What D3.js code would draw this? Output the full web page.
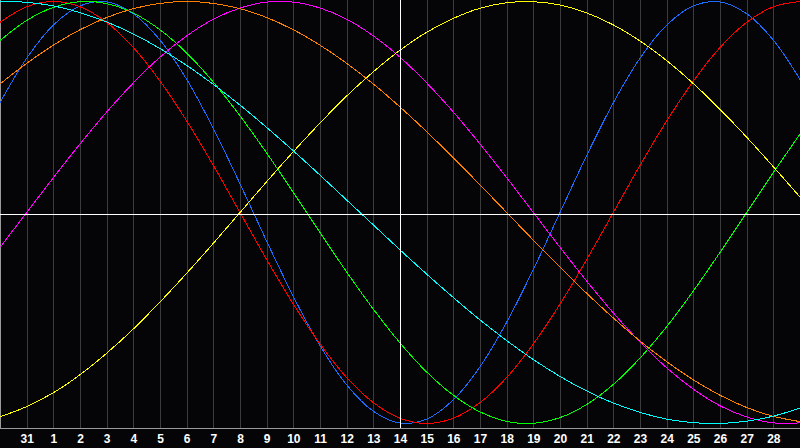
<!DOCTYPE html>
<html>
<head>
<meta charset="utf-8">
<script src="https://cdn.jsdelivr.net/npm/d3@7"></script>
<style>
  html, body { margin: 0; padding: 0; background: #050507; overflow: hidden; }
  svg { display: block; }
</style>
</head>
<body>
<svg id="chart" width="800" height="448"></svg>
<script>
// Day labels under each day gridline (index 1..29; index 0 is the left edge)
const dayLabels = ["31","1","2","3","4","5","6","7","8","9","10","11","12","13","14",
  "15","16","17","18","19","20","21","22","23","24","25","26","27","28"];

// Cycle names and colours
const cycleNames  = ["Physical","Emotional","Intellectual","Intuitive","Aesthetic","Awareness","Spiritual"];
const cycleColors = ["#1a6cff","#ff0000","#00ff00","#ff00ff","#ffff00","#ff8000","#00ffff"];

// Daily values (-1..1) for each cycle, day index 0..30
const physical = [0.520,0.731,0.888,0.979,0.998,0.942,0.817,0.631,0.398,0.136,-0.136,-0.398,-0.631,-0.817,-0.942,-0.998,-0.979,-0.888,-0.731,-0.520,-0.270,0,0.270,0.520,0.731,0.888,0.979,0.998,0.942,0.817,0.631];
const emotional = [0.901,0.975,1,0.975,0.901,0.782,0.623,0.434,0.223,0,-0.223,-0.434,-0.623,-0.782,-0.901,-0.975,-1,-0.975,-0.901,-0.782,-0.623,-0.434,-0.223,0,0.223,0.434,0.623,0.782,0.901,0.975,1];
const intellectual = [0.815,0.910,0.972,0.999,0.990,0.945,0.866,0.756,0.618,0.458,0.282,0.095,-0.095,-0.282,-0.458,-0.618,-0.756,-0.866,-0.945,-0.990,-0.999,-0.972,-0.910,-0.815,-0.690,-0.541,-0.372,-0.189,0,0.189,0.372];
const intuitive = [-0.165,0,0.165,0.325,0.476,0.614,0.736,0.837,0.916,0.969,0.997,0.997,0.969,0.916,0.837,0.736,0.614,0.476,0.325,0.165,0,-0.165,-0.325,-0.476,-0.614,-0.736,-0.837,-0.916,-0.969,-0.997,-0.997];
const aesthetic = [-0.968,-0.920,-0.854,-0.769,-0.667,-0.552,-0.424,-0.288,-0.146,0,0.146,0.288,0.424,0.552,0.667,0.769,0.854,0.920,0.968,0.994,0.999,0.983,0.946,0.889,0.813,0.720,0.611,0.489,0.357,0.217,0.073];
const awareness = [0.609,0.707,0.793,0.866,0.924,0.966,0.991,1,0.991,0.966,0.924,0.866,0.793,0.707,0.609,0.5,0.383,0.259,0.131,0,-0.131,-0.259,-0.383,-0.5,-0.609,-0.707,-0.793,-0.866,-0.924,-0.966,-0.991];
const spiritual = [1.000,0.996,0.979,0.947,0.903,0.846,0.777,0.697,0.607,0.509,0.403,0.292,0.177,0.059,-0.059,-0.177,-0.292,-0.403,-0.509,-0.607,-0.697,-0.777,-0.846,-0.903,-0.947,-0.979,-0.996,-1.000,-0.989,-0.965,-0.927];

const series = [physical, emotional, intellectual, intuitive, aesthetic, awareness, spiritual];

const W = 800, plotH = 428;
const svg = d3.select("#chart");

const x = d3.scaleLinear().domain([0, 30]).range([0, W]);
const y = d3.scaleLinear().domain([-1, 1]).range([423.5, 1.5]);

svg.append("rect").attr("width", W).attr("height", 448).attr("fill", "#050507");

svg.append("defs").append("clipPath").attr("id", "clip")
  .append("rect").attr("x", 0).attr("y", 0).attr("width", W).attr("height", plotH);

// vertical day gridlines
const dayIdx = d3.range(1, 30);
svg.append("g").selectAll("line").data(dayIdx).join("line")
  .attr("x1", d => Math.round(x(d)) + 0.5).attr("x2", d => Math.round(x(d)) + 0.5)
  .attr("y1", 0).attr("y2", plotH)
  .attr("stroke", "#3c3c3c").attr("stroke-width", 1)
  .attr("shape-rendering", "crispEdges");

// left border
svg.append("line").attr("x1", 0.5).attr("x2", 0.5).attr("y1", 0).attr("y2", plotH)
  .attr("stroke", "#9a9a9a").attr("shape-rendering", "crispEdges");

// curves
const line = d3.line()
  .x((d, i) => x(i))
  .y(d => y(d))
  .curve(d3.curveCatmullRom.alpha(0.5));

const curves = svg.append("g").attr("clip-path", "url(#clip)");
curves.selectAll("path").data(series).join("path")
  .attr("d", d => line(d))
  .attr("fill", "none")
  .attr("stroke", (d, i) => cycleColors[i])
  .attr("stroke-width", 1)
  .attr("shape-rendering", "crispEdges");

// centre cross lines (today)
svg.append("line").attr("x1", 0).attr("x2", W).attr("y1", 214.5).attr("y2", 214.5)
  .attr("stroke", "#ffffff").attr("shape-rendering", "crispEdges");
svg.append("line").attr("x1", x(15) + 0.5).attr("x2", x(15) + 0.5).attr("y1", 0).attr("y2", plotH)
  .attr("stroke", "#ffffff").attr("shape-rendering", "crispEdges");

// bottom axis line
svg.append("line").attr("x1", 0).attr("x2", W).attr("y1", plotH + 0.5).attr("y2", plotH + 0.5)
  .attr("stroke", "#9a9a9a").attr("shape-rendering", "crispEdges");

// day labels
svg.append("g").selectAll("text").data(dayLabels).join("text")
  .attr("x", (d, i) => x(i + 1) + 0.5)
  .attr("y", 443)
  .attr("text-anchor", "middle")
  .attr("fill", "#ffffff")
  .attr("font-family", "'Liberation Sans', Arial, sans-serif")
  .attr("font-weight", "bold")
  .attr("font-size", "12px")
  .text(d => d);
</script>
</body>
</html>
